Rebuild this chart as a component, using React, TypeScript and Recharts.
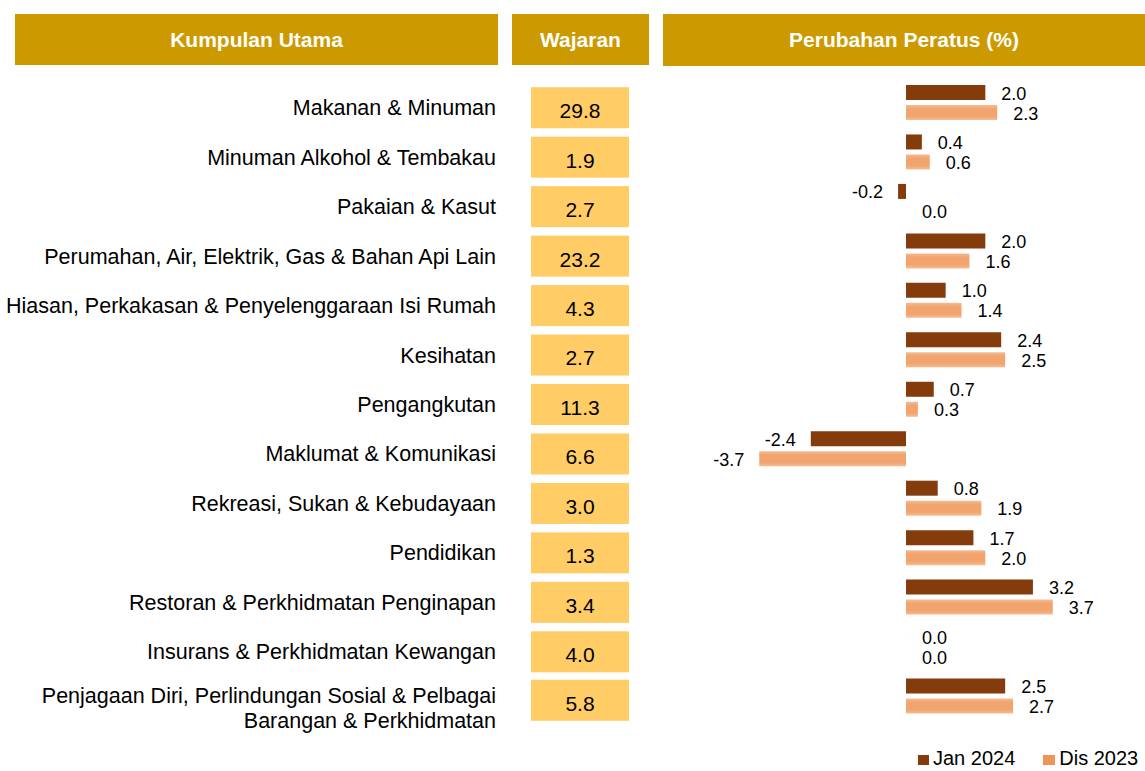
import { BarChart, Bar, XAxis, YAxis, LabelList } from 'recharts';

const categories = [
  'Makanan & Minuman',
  'Minuman Alkohol & Tembakau',
  'Pakaian & Kasut',
  'Perumahan, Air, Elektrik, Gas & Bahan Api Lain',
  'Hiasan, Perkakasan & Penyelenggaraan Isi Rumah',
  'Kesihatan',
  'Pengangkutan',
  'Maklumat & Komunikasi',
  'Rekreasi, Sukan & Kebudayaan',
  'Pendidikan',
  'Restoran & Perkhidmatan Penginapan',
  'Insurans & Perkhidmatan Kewangan',
  'Penjagaan Diri, Perlindungan Sosial & Pelbagai\nBarangan & Perkhidmatan',
];
const weights = [29.8, 1.9, 2.7, 23.2, 4.3, 2.7, 11.3, 6.6, 3.0, 1.3, 3.4, 4.0, 5.8];
const jan2024 = [2.0, 0.4, -0.2, 2.0, 1.0, 2.4, 0.7, -2.4, 0.8, 1.7, 3.2, 0.0, 2.5];
const dis2023 = [2.3, 0.6, 0.0, 1.6, 1.4, 2.5, 0.3, -3.7, 1.9, 2.0, 3.7, 0.0, 2.7];

const seriesNames = ['Jan 2024', 'Dis 2023'];
const headers = ['Kumpulan Utama', 'Wajaran', 'Perubahan Peratus (%)'];

const data = categories.map((name, i) => ({ name, jan: jan2024[i], dis: dis2023[i] }));

const FONT = '"Liberation Sans", Arial, sans-serif';
const GOLD = '#CC9900';
const BOX = '#FFCC66';
const DARK = '#843C0C';
const LIGHT = '#F2A46E';

function RowTick(props: any) {
  const { y, payload } = props;
  const i = props.index ?? payload.index;
  const cy = Number(y);
  const lines = String(payload.value).split('\n');
  const multi = lines.length > 1;
  const base = multi ? cy + 6.7 : cy + 12.5;
  const boxMid = multi ? cy + 4 : cy + 5;
  return (
    <g>
      {lines.map((l, k) => (
        <text key={k} x={496} y={base + k * 25} textAnchor="end" fontSize={21.5} fontFamily={FONT} fill="#000">
          {l}
        </text>
      ))}
      <rect x={531} y={boxMid - 20.5} width={98} height={41} fill={BOX} />
      <text x={580} y={boxMid + 10.4} textAnchor="middle" fontSize={21} fontFamily={FONT} fill="#000">
        {weights[i].toFixed(1)}
      </text>
    </g>
  );
}

function ValueLabel(props: any) {
  const { x, y, width, height, value } = props;
  const v = Number(value);
  const x0 = Number(x);
  const w = Math.abs(v) < 1e-9 ? 0 : Number(width) || 0;
  const end = v < 0 ? Math.min(x0, x0 + w) : Math.max(x0, x0 + w);
  const tx = v < 0 ? end - 15 : end + 16;
  return (
    <text
      x={tx}
      y={Number(y) + Number(height) / 2 + 7}
      textAnchor={v < 0 ? 'end' : 'start'}
      fontSize={18}
      fontFamily={FONT}
      fill="#000"
    >
      {v.toFixed(1)}
    </text>
  );
}

const headerStyle = (left: number, width: number, top = 14, height = 51) => ({
  position: 'absolute' as const,
  left,
  top,
  width,
  height,
  background: GOLD,
  color: '#fff',
  fontFamily: FONT,
  fontWeight: 700,
  fontSize: 21,
  display: 'flex',
  alignItems: 'center',
  justifyContent: 'center',
});

export default function App() {
  return (
    <div style={{ position: 'absolute', left: 0, top: 0, width: 1145, height: 771, background: '#fff', overflow: 'hidden' }}>
      <div style={headerStyle(15, 483)}>{headers[0]}</div>
      <div style={headerStyle(512, 137)}>{headers[1]}</div>
      <div style={headerStyle(663, 482, 14, 52)}>{headers[2]}</div>

      <BarChart
        width={1145}
        height={771}
        data={data}
        layout="vertical"
        margin={{ top: 78, right: 1, bottom: 50, left: 0 }}
        barSize={15}
        barGap={5}
      >
        <defs>
          <linearGradient id="lightFill" x1="0" y1="0" x2="0" y2="1">
            <stop offset="0%" stopColor="#F6BC94" />
            <stop offset="25%" stopColor={LIGHT} />
            <stop offset="75%" stopColor={LIGHT} />
            <stop offset="100%" stopColor="#F6BC94" />
          </linearGradient>
        </defs>
        <XAxis type="number" domain={[-6, 6]} hide />
        <YAxis
          type="category"
          dataKey="name"
          width={668}
          axisLine={false}
          tickLine={false}
          interval={0}
          tick={(p: any) => <RowTick {...p} />}
        />
        <Bar dataKey="jan" name={seriesNames[0]} fill={DARK} minPointSize={0.01} isAnimationActive={false}>
          <LabelList dataKey="jan" content={(p: any) => <ValueLabel {...p} />} />
        </Bar>
        <Bar dataKey="dis" name={seriesNames[1]} fill="url(#lightFill)" minPointSize={0.01} isAnimationActive={false}>
          <LabelList dataKey="dis" content={(p: any) => <ValueLabel {...p} />} />
        </Bar>
      </BarChart>

      <div style={{ position: 'absolute', left: 918, top: 748, fontFamily: FONT, fontSize: 20, lineHeight: '20px', display: 'flex', alignItems: 'flex-start', whiteSpace: 'nowrap' }}>
        <span style={{ display: 'inline-block', width: 11, height: 10, background: DARK, marginTop: 7, marginRight: 4 }} />
        <span>{seriesNames[0]}</span>
        <span style={{ display: 'inline-block', width: 12, height: 10, background: '#F0955A', marginTop: 7, marginLeft: 28, marginRight: 4 }} />
        <span>{seriesNames[1]}</span>
      </div>
    </div>
  );
}
